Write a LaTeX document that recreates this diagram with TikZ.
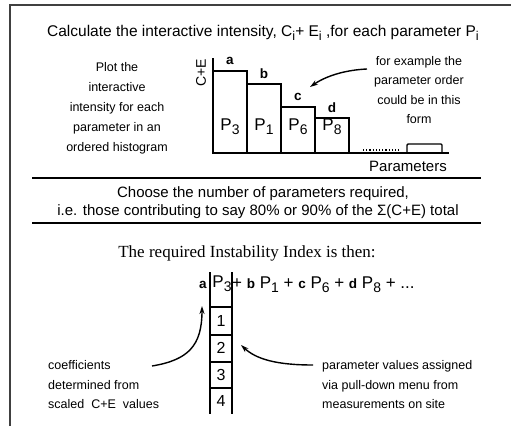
\documentclass[tikz,border=0pt]{standalone}
\usepackage{fontspec}
\setmainfont{Liberation Serif}
\setsansfont{Liberation Sans}
\usepackage{graphicx}
\usetikzlibrary{arrows.meta, positioning}

\newcommand{\idx}[1]{\raisebox{-0.45ex}{\scalebox{0.82}{#1}}}

\begin{document}
\begin{tikzpicture}[x=1pt, y=-1pt,
    txt/.style={font=\sffamily\fontsize{12.5}{19.5}\selectfont, align=center, inner sep=0pt},
    big/.style={font=\sffamily\fontsize{15}{18}\selectfont, inner sep=0pt},
    pbig/.style={font=\sffamily\fontsize{17}{18}\selectfont, inner sep=0pt},
    coef/.style={font=\sffamily\bfseries\fontsize{13.5}{14}\selectfont, inner sep=0pt},
    bar/.style={line width=1.4pt},
    cell/.style={line width=1.2pt},
    rule/.style={line width=1.8pt},
    pointer/.style={-{Stealth[length=8pt,width=5pt]}, line width=1.4pt}]

    \fill[white] (0,0) rectangle (511,426);
    \useasboundingbox (0,0) rectangle (511,426);

    % Frame (top and left edge only)
    \draw[line width=2.6pt, black!75] (10,426) -- (10,5) -- (511,5);

    % Step 1: intensity per parameter
    \node[big, font=\sffamily\fontsize{15.5}{18}\selectfont] (title) at (263,33) {Calculate the interactive intensity, C\idx{i}+ E\idx{i} ,for each parameter P\idx{i}};
    \node[txt, font=\sffamily\fontsize{12.5}{20}\selectfont] (plotnote) at (117,108) {Plot the\\interactive\\intensity for each\\parameter in an\\ordered histogram};
    \node[txt] (ordernote) at (419,90) {for example the\\parameter order\\could be in this\\form};

    % Histogram
    \draw[bar] (213,58) -- (213,153) -- (449,153);
    \foreach \xl/\xr/\ytop/\k/\c in {213/247/71/3/a, 247/281/84/1/b, 281/315/107/6/c, 315/349/118/8/d} {
        \draw[bar] (\xl,153) |- (\xr,\ytop) -- (\xr,153);
        \node[pbig] (bar\k) at ({(\xl+\xr)/2},127) {P\idx{\k}};
        \node[coef] (coef\c) at ({(\xl+\xr)/2},\ytop-10) {\c};
    }
    \draw[dotted, line width=1.2pt] (363,150) -- (400,150);
    \draw[bar, rounded corners=1pt] (407,153) |- (442,144) -- (442,153);
    \node[font=\sffamily\fontsize{14}{14}\selectfont, rotate=90, inner sep=0pt] (axislabel) at (201,73) {C+E};
    \node[big] (axisname) at (408,166) {Parameters};

    \coordinate (orderTail) at (367,69);
    \coordinate (orderTip) at (310,87);
    \draw[pointer] (orderTail) .. controls (345,70) and (326,76) .. (orderTip);

    % Step 2: how many parameters
    \draw[rule] (32,178) -- (481,178);
    \node[big] (choose) at (263,194) {Choose the number of parameters required,};
    \node[big] (share) at (258,212) {i.e. those contributing to say 80\% or 90\% of the Σ(C+E) total};
    \draw[rule] (32,223) -- (481,223);

    % Step 3: the index
    \node[font=\fontsize{17}{18}\selectfont, inner sep=0pt] (indexline) at (247,253) {The required Instability Index is then:};

    \draw[cell] (210,272) -- (210,414) (232,272) -- (232,414);
    \foreach \y in {307,335,362,388}
        \draw[cell] (210,\y) -- (232,\y);
    \foreach \k/\y in {1/321, 2/348, 3/375, 4/401}
        \node[pbig, font=\sffamily\fontsize{16}{18}\selectfont] (val\k) at (221,\y) {\k};

    \node[coef] (coefA) at (203,285) {a};
    \node[pbig] (ptop) at (222,284) {P\idx{3}};
    \node[pbig, anchor=west] (formula) at (232,285) {+ {\bfseries\fontsize{13.5}{14}\selectfont b} P\idx{1} + {\bfseries\fontsize{13.5}{14}\selectfont c} P\idx{6} + {\bfseries\fontsize{13.5}{14}\selectfont d} P\idx{8} + ...};

    \node[txt, align=left, anchor=west] (coefnote) at (48,385) {coefficients\\determined from\\scaled~ C+E~ values};
    \node[txt, align=left, anchor=west] (valnote) at (322,385) {parameter values assigned\\via pull-down menu from\\measurements on site};

    \coordinate (coefTail) at (152,366);
    \coordinate (coefTip) at (202,306);
    \draw[pointer] (coefTail) .. controls (188,360) and (202,346) .. (coefTip);
    \coordinate (valTail) at (313,365);
    \coordinate (valTip) at (241,345);
    \draw[pointer] (valTail) .. controls (276,365) and (256,359) .. (valTip);
\end{tikzpicture}
\end{document}
